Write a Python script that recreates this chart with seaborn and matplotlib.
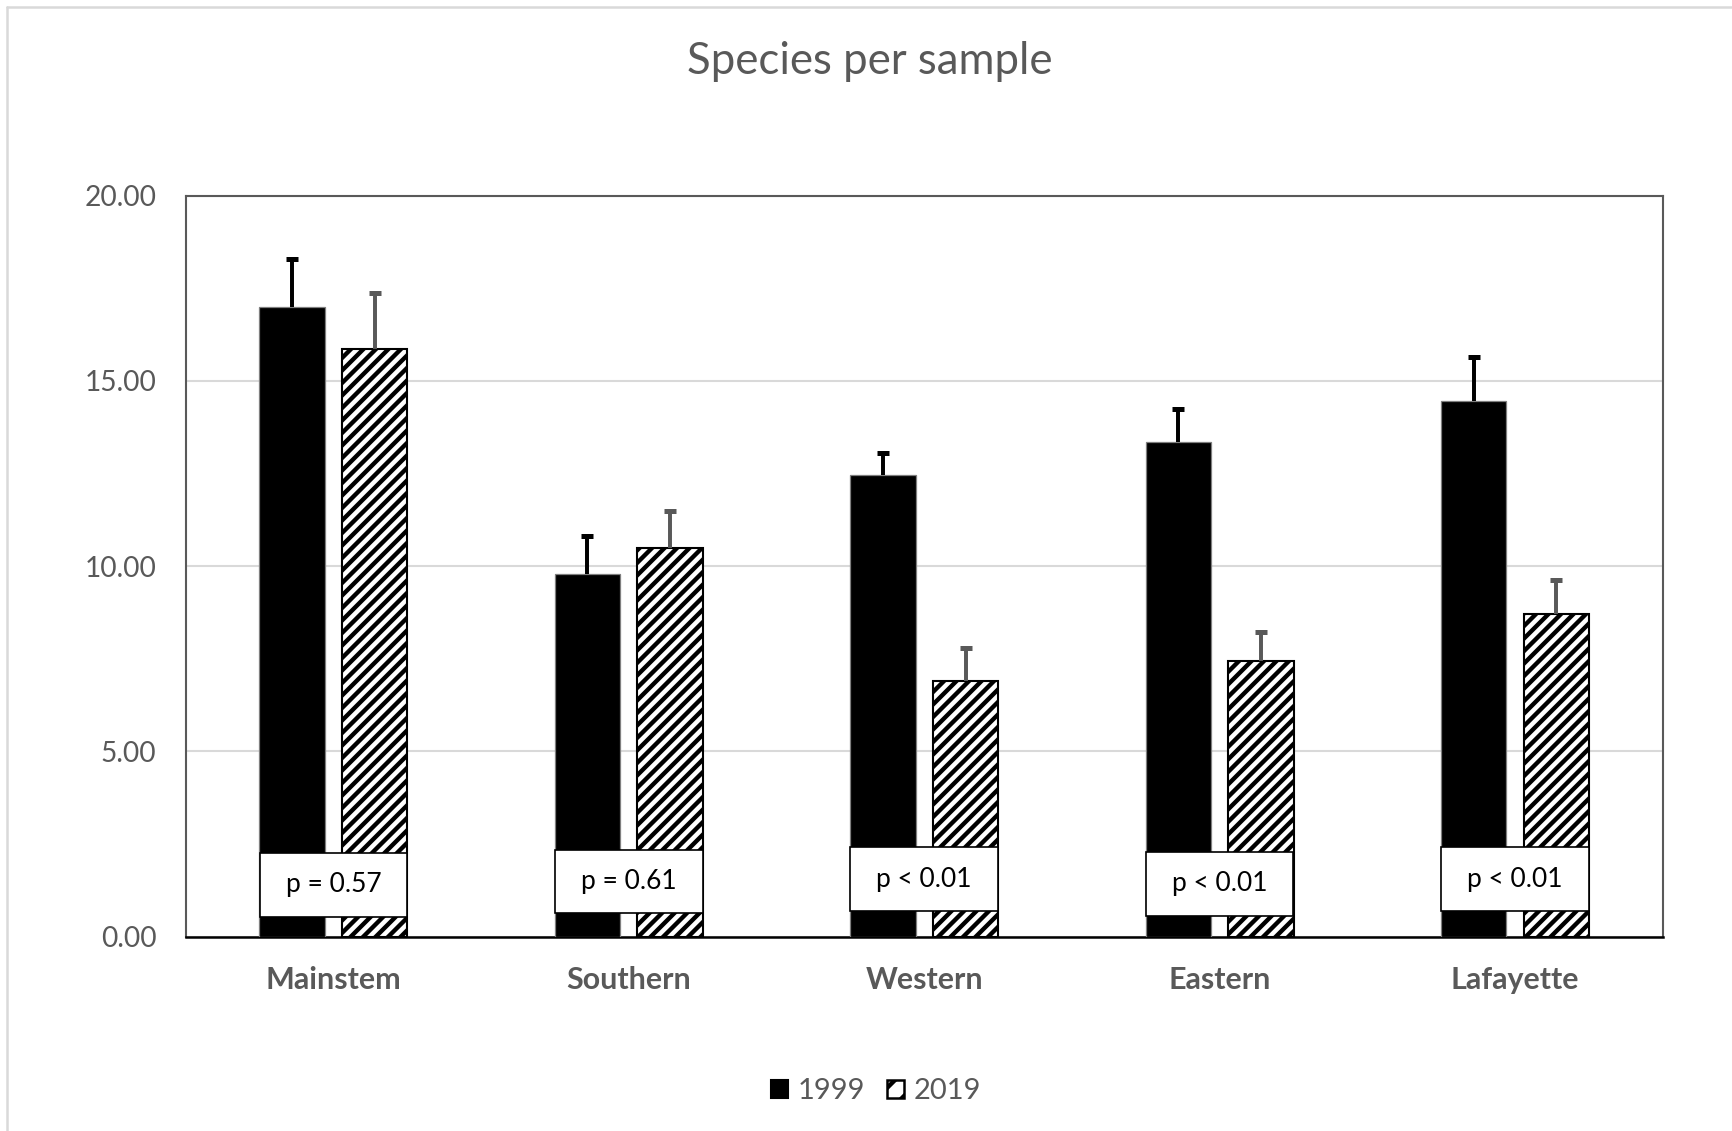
import numpy as np
import pandas as pd
import seaborn as sns
import matplotlib.pyplot as plt
from matplotlib.patches import Rectangle, Patch
from matplotlib.lines import Line2D

# ---- data ----
regions = ["Mainstem", "Southern", "Western", "Eastern", "Lafayette"]
years = ["1999", "2019"]
mean_1999 = [17.0, 9.8, 12.45, 13.35, 14.45]
mean_2019 = [15.87, 10.5, 6.9, 7.45, 8.7]
err_1999 = [1.28, 1.0, 0.6, 0.9, 1.18]
err_2019 = [1.5, 1.0, 0.88, 0.77, 0.92]
p_labels = ["p = 0.57", "p = 0.61", "p < 0.01", "p < 0.01", "p < 0.01"]
p_box_bottom = [0.54, 0.63, 0.69, 0.57, 0.69]
y_ticks = [0, 5, 10, 15, 20]

GRAY = "#595959"

sns.set_theme(style="white")
plt.rcParams["font.family"] = ["Lato", "DejaVu Sans"]
plt.rcParams["hatch.linewidth"] = 2.1

df = pd.DataFrame({
    "region": regions * 2,
    "year": [years[0]] * len(regions) + [years[1]] * len(regions),
    "mean": mean_1999 + mean_2019,
})

DPI = 150
fig = plt.figure(figsize=(1732 / DPI, 1131 / DPI), dpi=DPI)
ax = fig.add_axes([0.1072, 0.1718, 0.8528, 0.6553])

sns.barplot(data=df, x="region", y="mean", hue="year", order=regions,
            hue_order=years, palette={"1999": "black", "2019": "white"},
            width=0.56, gap=0.21, errorbar=None, ax=ax, legend=False,
            zorder=3)

# style bars
for bar in ax.containers[0]:
    bar.set_edgecolor("#7f7f7f")
    bar.set_linewidth(0.6)
for bar in ax.containers[1]:
    bar.set_edgecolor("black")
    bar.set_linewidth(1.0)
    bar.set_hatch("////")

# error bars (upper only)
for cont, errs, col in [(ax.containers[0], err_1999, "black"),
                        (ax.containers[1], err_2019, GRAY)]:
    xs = [b.get_x() + b.get_width() / 2 for b in cont]
    tops = np.array([b.get_height() for b in cont])
    eb = ax.errorbar(xs, tops, yerr=[np.zeros(len(errs)), errs], fmt="none",
                     ecolor=col, elinewidth=1.9, capsize=2.9, capthick=2.4,
                     zorder=4)
    for cl in eb[1]:
        if np.allclose(np.asarray(cl.get_ydata(), dtype=float), tops):
            cl.set_visible(False)

# p-value boxes
for i, (lab, yb) in enumerate(zip(p_labels, p_box_bottom)):
    ax.add_patch(Rectangle((i - 0.25, yb), 0.5, 1.72, facecolor="white",
                           edgecolor="black", linewidth=0.8, zorder=5))
    ax.text(i, yb + 0.86, lab, ha="center", va="center", fontsize=12.7,
            color="black", zorder=6)

ax.set_xlim(-0.5, len(regions) - 0.5)
ax.set_ylim(0, 20)
ax.set_yticks(y_ticks)
ax.set_yticklabels([f"{v:.2f}" for v in y_ticks])
ax.yaxis.grid(True, color="#d9d9d9", linewidth=1.0, zorder=0)
ax.set_axisbelow(True)
ax.set_xlabel("")
ax.set_ylabel("")
ax.tick_params(axis="both", length=0)
ax.tick_params(axis="y", pad=14, labelsize=13.5, labelcolor=GRAY)
ax.tick_params(axis="x", pad=14, labelsize=14.6, labelcolor=GRAY)
for t in ax.get_xticklabels():
    t.set_fontweight("bold")

for side in ["top", "right", "left"]:
    ax.spines[side].set_visible(True)
    ax.spines[side].set_color(GRAY)
    ax.spines[side].set_linewidth(1.0)
ax.spines["bottom"].set_color("black")
ax.spines["bottom"].set_linewidth(1.2)

# title
fig.text(0.502, 0.946, "Species per sample", ha="center", va="center",
         fontsize=21, color=GRAY)

# legend
handles = [Patch(facecolor="black", edgecolor="black", label=years[0]),
           Patch(facecolor="white", edgecolor="black", hatch="//",
                 label=years[1], linewidth=1.2)]
fig.legend(handles=handles, loc="center", bbox_to_anchor=(0.506, 0.035),
           ncol=2, frameon=False, fontsize=14, labelcolor=GRAY,
           handlelength=0.56, handleheight=0.56, handletextpad=0.35,
           columnspacing=0.75)

# chart area border (top and left visible)
fig.add_artist(Line2D([6.5 / 1732, 1.0], [1 - 7 / 1131, 1 - 7 / 1131],
                      transform=fig.transFigure, color="#d9d9d9", linewidth=1.2))
fig.add_artist(Line2D([6.5 / 1732, 6.5 / 1732], [0.0, 1 - 7 / 1131],
                      transform=fig.transFigure, color="#d9d9d9", linewidth=1.2))

fig.savefig("out.png", dpi=DPI, facecolor="white")
